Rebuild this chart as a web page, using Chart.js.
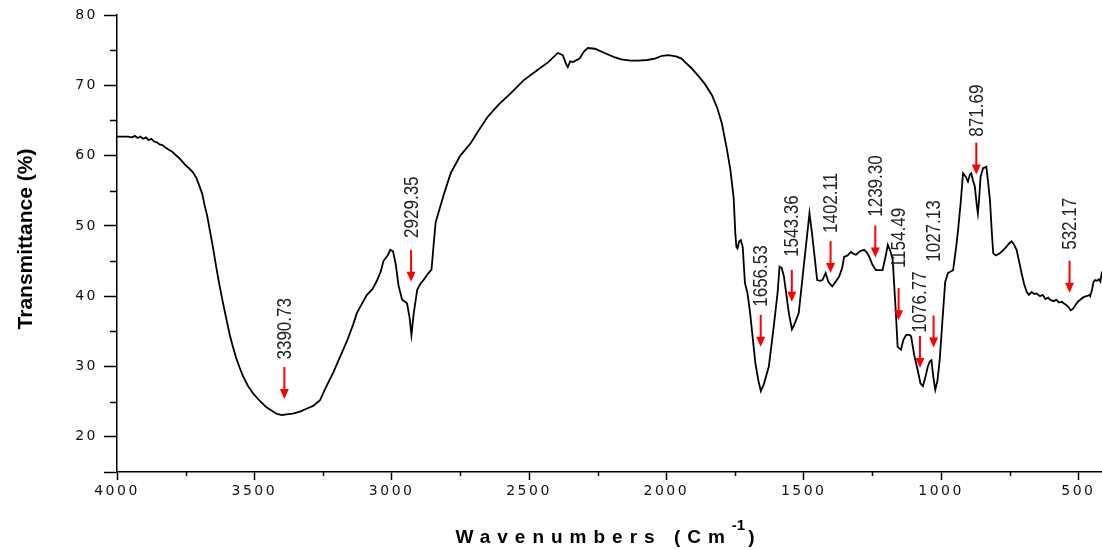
<!DOCTYPE html>
<html><head><meta charset="utf-8">
<script src="https://cdn.jsdelivr.net/npm/chart.js@4.4.1/dist/chart.umd.min.js"></script>
<style>html,body{margin:0;padding:0;background:#fff;}#wrap{width:1102px;height:550px;position:relative;}</style>
</head><body><div id="wrap"><canvas id="c"></canvas></div>
<script>
const wavenumbers = [
4000,3980,3960,3945,3935,3925,3915,3905,3895,3885,3875,3865,3855,3845,3835,3822,3810,3800,3790,3775,
3761,3750,3740,3725,3712,3700,3690,3682,3672,3663,3650,3639,3627,3615,3602,3590,3578,3566,3554,3542,
3524,3505,3480,3456,3436,3420,3400,3383,3360,3334,3310,3286,3261,3240,3212,3190,3163,3140,3127,3110,
3090,3070,3054,3040,3030,3015,3005,2995,2985,2975,2962,2944,2935,2928,2920,2907,2895,2884,2868,2855,
2848,2840,2834,2810,2785,2750,2712,2680,2651,2610,2566,2520,2468,2430,2395,2377,2365,2359,2350,2340,
2316,2300,2286,2260,2225,2190,2164,2130,2103,2070,2042,2015,1993,1965,1945,1932,1910,1883,1860,1834,
1815,1798,1780,1767,1755,1749,1745,1741,1735,1729,1722,1714,1705,1695,1676,1665,1656,1645,1627,1609,
1595,1588,1580,1572,1554,1543,1536,1518,1500,1488,1479,1470,1463,1451,1440,1432,1420,1410,1396,1385,
1371,1360,1353,1340,1328,1318,1310,1295,1280,1270,1261,1250,1237,1213,1200,1194,1185,1176,1165,1158,
1146,1137,1127,1115,1109,1097,1085,1075,1066,1057,1048,1041,1035,1028,1021,1013,1005,995,985,975,
956,945,938,928,920,910,902,895,890,884,877,870,866,862,856,847,835,828,822,815,
810,800,786,775,761,752,743,735,725,716,707,698,688,680,670,660,652,640,630,620,
610,603,590,580,570,560,554,545,535,528,520,510,500,493,480,470,460,457,450,445,
439,432,425,420,414
];
const transmittance = [
62.7,62.7,62.7,62.6,62.8,62.5,62.7,62.4,62.6,62.2,62.4,62.0,61.9,61.6,61.5,61.1,60.8,60.6,60.2,59.7,
59.1,58.6,58.3,57.7,56.9,55.7,54.6,53.1,51.5,49.6,46.8,44.2,41.6,39.2,36.8,34.6,32.8,31.2,29.9,28.7,
27.3,26.2,25.1,24.2,23.7,23.3,23.1,23.2,23.3,23.6,24.0,24.4,25.2,27.0,29.2,31.2,33.6,36.0,37.6,38.8,
40.2,41.0,42.2,43.5,45.0,45.8,46.6,46.4,44.5,41.5,39.5,39.0,37.0,34.5,37.5,40.9,41.8,42.3,43.2,43.8,
47.0,50.5,51.3,54.5,57.5,60.0,61.8,63.8,65.5,67.3,68.9,70.7,72.2,73.3,74.6,74.3,73.0,72.6,73.4,73.3,
73.8,74.8,75.3,75.2,74.6,74.0,73.7,73.5,73.5,73.6,73.8,74.2,74.3,74.1,73.8,73.3,72.5,71.3,70.2,68.6,
66.8,64.6,61.0,58.0,54.0,49.0,47.0,46.8,47.8,48.0,47.0,41.9,40.5,37.6,30.5,28.0,26.5,27.5,30.0,35.7,
40.5,44.2,44.0,42.8,37.6,35.3,35.8,37.6,44.2,48.5,51.8,49.0,46.6,42.3,42.2,42.3,43.3,42.0,41.4,42.0,
42.8,44.0,45.6,45.8,46.3,46.0,45.9,46.4,46.6,46.2,45.6,44.5,43.7,43.7,46.0,47.3,46.5,45.2,38.0,32.8,
32.4,33.8,34.5,34.5,34.3,31.5,29.5,27.6,27.2,28.5,30.0,30.7,30.9,28.5,26.7,28.0,30.9,36.5,42.0,43.3,
43.7,47.0,49.4,53.5,57.5,57.0,56.3,57.3,57.5,56.5,55.6,53.0,51.8,53.5,57.0,58.2,58.4,56.0,53.7,49.0,
46.1,45.8,46.1,46.5,47.1,47.5,47.8,47.4,46.6,45.0,43.3,41.8,40.6,40.2,40.6,40.3,40.4,40.0,40.2,39.6,
39.8,39.5,39.3,39.5,39.1,39.2,39.0,38.8,38.4,38.0,38.2,38.8,39.3,39.5,39.9,40.0,40.2,40.0,41.0,42.0,
42.3,42.2,42.4,42.1,43.5
];
const xTickValues = [500,1000,1500,2000,2500,3000,3500,4000];
const xMinorTickValues = [750,1250,1750,2250,2750,3250,3750];
const yTickValues = [15,20,30,40,50,60,70,80];
const yMinorTickValues = [25,35,45,55,65,75];
const peakWavenumbers = [3390.73,2929.35,1656.53,1543.36,1402.11,1239.30,1154.49,1076.77,1027.13,871.69,532.17];
const peakLabels = ["3390.73","2929.35","1656.53","1543.36","1402.11","1239.30","1154.49","1076.77","1027.13","871.69","532.17"];
const peakArrowTips = [25.4,42.05,32.8,39.2,43.3,45.5,36.6,29.8,32.7,57.3,40.5];
const peakLabelBases = [31.0,48.3,38.5,45.6,49.0,51.3,44.0,34.8,44.9,62.7,46.6];

const decor = {
  id: 'decor',
  beforeDraw(chart) { chart.ctx.letterSpacing = '2.5px'; },
  beforeDatasetsDraw(chart) {
    const ctx = chart.ctx, xs = chart.scales.x, ys = chart.scales.y, a = chart.chartArea;
    ctx.letterSpacing = '0px';
    ctx.save();
    ctx.strokeStyle = '#000'; ctx.lineWidth = 1.5;
    ctx.beginPath();
    xMinorTickValues.forEach(v => { const p = Math.round(xs.getPixelForValue(v)) + 0.5; ctx.moveTo(p, a.bottom); ctx.lineTo(p, a.bottom + 4); });
    yMinorTickValues.forEach(v => { const p = Math.round(ys.getPixelForValue(v)) + 0.5; ctx.moveTo(a.left, p); ctx.lineTo(a.left - 7, p); });
    ctx.stroke();
    ctx.restore();
  },
  afterDatasetsDraw(chart) {
    const ctx = chart.ctx, xs = chart.scales.x, ys = chart.scales.y;
    ctx.save();
    peakWavenumbers.forEach((w, i) => {
      const px = xs.getPixelForValue(w);
      const tip = ys.getPixelForValue(peakArrowTips[i]);
      const top = tip - 32;
      ctx.strokeStyle = '#ff0000'; ctx.fillStyle = '#ff0000'; ctx.lineWidth = 2;
      ctx.beginPath(); ctx.moveTo(px, top); ctx.lineTo(px, tip - 8); ctx.stroke();
      ctx.beginPath(); ctx.moveTo(px - 4.5, tip - 10); ctx.lineTo(px + 4.5, tip - 10); ctx.lineTo(px, tip); ctx.closePath(); ctx.fill();
      const base = ys.getPixelForValue(peakLabelBases[i]);
      ctx.save();
      ctx.translate(px, base); ctx.rotate(-Math.PI / 2); ctx.scale(0.85, 1);
      ctx.font = '20px "Liberation Sans", Arial, sans-serif';
      ctx.fillStyle = '#222'; ctx.textAlign = 'left'; ctx.textBaseline = 'middle';
      ctx.fillText(peakLabels[i], 0, 1);
      ctx.restore();
    });
    ctx.restore();
  },
  afterDraw(chart) {
    const ctx = chart.ctx;
    ctx.save();
    ctx.letterSpacing = '0px';
    ctx.fillStyle = '#000';
    ctx.save();
    ctx.translate(26, 239); ctx.rotate(-Math.PI / 2);
    ctx.font = 'bold 21px "Liberation Sans", Arial, sans-serif';
    ctx.textAlign = 'center'; ctx.textBaseline = 'middle';
    ctx.fillText('Transmittance (%)', 0, 0);
    ctx.restore();
    const t1 = 'Wavenumbers (Cm', t2 = '-1', t3 = ')';
    ctx.textBaseline = 'alphabetic'; ctx.textAlign = 'left';
    ctx.font = 'bold 19px "Liberation Sans", Arial, sans-serif';
    ctx.letterSpacing = '7px';
    const w1 = ctx.measureText(t1).width;
    ctx.letterSpacing = '0px';
    const w3 = ctx.measureText(t3).width;
    ctx.font = 'bold 15px "Liberation Sans", Arial, sans-serif';
    const w2 = ctx.measureText(t2).width;
    const total = w1 + w2 + 3 + w3;
    const x0 = 605 - total / 2;
    ctx.font = 'bold 19px "Liberation Sans", Arial, sans-serif';
    ctx.letterSpacing = '7px';
    ctx.fillText(t1, x0, 543);
    ctx.letterSpacing = '0px';
    ctx.font = 'bold 15px "Liberation Sans", Arial, sans-serif';
    ctx.fillText(t2, x0 + w1, 530);
    ctx.font = 'bold 19px "Liberation Sans", Arial, sans-serif';
    ctx.fillText(t3, x0 + w1 + w2 + 3, 543);
    ctx.restore();
  }
};

new Chart(document.getElementById('c'), {
  type: 'line',
  data: {
    datasets: [{
      data: wavenumbers.map((x, i) => ({ x: x, y: transmittance[i] })),
      borderColor: '#000', borderWidth: 1.8, pointRadius: 0, tension: 0, fill: false
    }]
  },
  options: {
    responsive: true, maintainAspectRatio: false, animation: false,
    layout: { padding: { top: 15, right: 0, left: 0, bottom: 0 } },
    plugins: { legend: { display: false }, tooltip: { enabled: false } },
    scales: {
      x: {
        type: 'linear', reverse: true, min: 414, max: 4000,
        afterBuildTicks: s => { s.ticks = xTickValues.map(v => ({ value: v })); },
        afterFit: s => { s.height = 78; },
        grid: { display: true, drawOnChartArea: false, drawTicks: true, tickLength: 8, tickColor: '#000', tickWidth: 1.5 },
        border: { display: true, color: '#000', width: 1.5 },
        ticks: { color: '#111', padding: 3, maxRotation: 0, autoSkip: false, font: { family: '"DejaVu Sans", sans-serif', size: 14 },
          callback: v => String(v) }
      },
      y: {
        type: 'linear', min: 15, max: 80,
        afterBuildTicks: s => { s.ticks = yTickValues.map(v => ({ value: v })); },
        afterFit: s => { s.width = 117; },
        grid: { display: true, drawOnChartArea: false, drawTicks: true, tickLength: 13, tickColor: '#000', tickWidth: 1.5 },
        border: { display: true, color: '#000', width: 1.5 },
        ticks: { color: '#111', padding: 6, autoSkip: false, font: { family: '"DejaVu Sans", sans-serif', size: 14 },
          callback: v => (v === 15 ? '' : String(v)) }
      }
    }
  },
  plugins: [decor]
});
</script>
</body></html>
